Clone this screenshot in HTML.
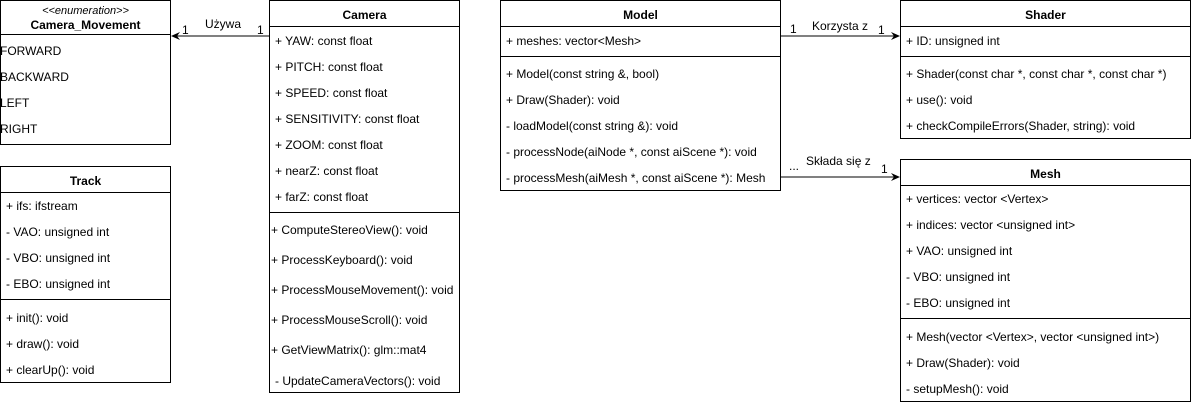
<!DOCTYPE html>
<html><head><meta charset="utf-8"><style>
body{margin:0;width:1191px;height:405px;background:#fff;position:relative;overflow:hidden;font-family:"Liberation Sans",sans-serif;font-size:12px;color:#000}
.b{position:absolute;border:1px solid #000;box-sizing:border-box}
.l{position:absolute;height:0;border-top:1px solid #000}
.t{position:absolute;white-space:nowrap;line-height:14px;transform:translateY(1px)}
.h{font-weight:bold;text-align:center}
</style></head><body>
<!-- Camera_Movement -->
<div class="b" style="left:0;top:0;width:171px;height:145px"></div>
<div class="l" style="left:0;top:34px;width:171px"></div>
<div class="t" style="left:0;top:3px;width:171px;text-align:center;font-style:italic;font-size:11px">&lt;&lt;enumeration&gt;&gt;</div>
<div class="t h" style="left:0;top:17px;width:171px">Camera_Movement</div>
<div class="t" style="left:0;top:43px">FORWARD</div>
<div class="t" style="left:0;top:69px">BACKWARD</div>
<div class="t" style="left:0;top:95px">LEFT</div>
<div class="t" style="left:0;top:121px">RIGHT</div>
<!-- Track -->
<div class="b" style="left:0;top:166px;width:171px;height:217px"></div>
<div class="l" style="left:0;top:192px;width:171px"></div>
<div class="l" style="left:0;top:299px;width:171px"></div>
<div class="t h" style="left:0;top:173px;width:171px">Track</div>
<div class="t" style="left:6px;top:198px">+ ifs: ifstream</div>
<div class="t" style="left:6px;top:224px">- VAO: unsigned int</div>
<div class="t" style="left:6px;top:250px">- VBO: unsigned int</div>
<div class="t" style="left:6px;top:276px">- EBO: unsigned int</div>
<div class="t" style="left:6px;top:310px">+ init(): void</div>
<div class="t" style="left:6px;top:336px">+ draw(): void</div>
<div class="t" style="left:6px;top:362px">+ clearUp(): void</div>
<!-- Camera -->
<div class="b" style="left:269px;top:0;width:191px;height:393px"></div>
<div class="l" style="left:269px;top:26px;width:191px"></div>
<div class="l" style="left:269px;top:212px;width:191px"></div>
<div class="t h" style="left:269px;top:7px;width:191px">Camera</div>
<div class="t" style="left:275px;top:33px">+ YAW: const float</div>
<div class="t" style="left:275px;top:59px">+ PITCH: const float</div>
<div class="t" style="left:275px;top:85px">+ SPEED: const float</div>
<div class="t" style="left:275px;top:111px">+ SENSITIVITY: const float</div>
<div class="t" style="left:275px;top:137px">+ ZOOM: const float</div>
<div class="t" style="left:275px;top:163px">+ nearZ: const float</div>
<div class="t" style="left:275px;top:189px">+ farZ: const float</div>
<div class="t" style="left:271px;top:222px">+ ComputeStereoView(): void</div>
<div class="t" style="left:271px;top:252px">+ ProcessKeyboard(): void</div>
<div class="t" style="left:271px;top:282px">+ ProcessMouseMovement(): void</div>
<div class="t" style="left:271px;top:312px">+ ProcessMouseScroll(): void</div>
<div class="t" style="left:271px;top:342px">+ GetViewMatrix(): glm::mat4</div>
<div class="t" style="left:275px;top:373px">- UpdateCameraVectors(): void</div>
<!-- Model -->
<div class="b" style="left:500px;top:0;width:281px;height:191px"></div>
<div class="l" style="left:500px;top:26px;width:281px"></div>
<div class="l" style="left:500px;top:56px;width:281px"></div>
<div class="t h" style="left:500px;top:7px;width:281px">Model</div>
<div class="t" style="left:506px;top:33px">+ meshes: vector&lt;Mesh&gt;</div>
<div class="t" style="left:506px;top:66px">+ Model(const string &amp;, bool)</div>
<div class="t" style="left:506px;top:92px">+ Draw(Shader): void</div>
<div class="t" style="left:506px;top:118px">- loadModel(const string &amp;): void</div>
<div class="t" style="left:506px;top:144px">- processNode(aiNode *, const aiScene *): void</div>
<div class="t" style="left:506px;top:170px">- processMesh(aiMesh *, const aiScene *): Mesh</div>
<!-- Shader -->
<div class="b" style="left:900px;top:0;width:291px;height:139px"></div>
<div class="l" style="left:900px;top:26px;width:291px"></div>
<div class="l" style="left:900px;top:56px;width:291px"></div>
<div class="t h" style="left:900px;top:7px;width:291px">Shader</div>
<div class="t" style="left:906px;top:33px">+ ID: unsigned int</div>
<div class="t" style="left:906px;top:66px">+ Shader(const char *, const char *, const char *)</div>
<div class="t" style="left:906px;top:92px">+ use(): void</div>
<div class="t" style="left:906px;top:118px">+ checkCompileErrors(Shader, string): void</div>
<!-- Mesh -->
<div class="b" style="left:900px;top:159px;width:291px;height:243px"></div>
<div class="l" style="left:900px;top:185px;width:291px"></div>
<div class="l" style="left:900px;top:318px;width:291px"></div>
<div class="t h" style="left:900px;top:166px;width:291px">Mesh</div>
<div class="t" style="left:906px;top:191px">+ vertices: vector &lt;Vertex&gt;</div>
<div class="t" style="left:906px;top:217px">+ indices: vector &lt;unsigned int&gt;</div>
<div class="t" style="left:906px;top:243px">+ VAO: unsigned int</div>
<div class="t" style="left:906px;top:269px">- VBO: unsigned int</div>
<div class="t" style="left:906px;top:295px">- EBO: unsigned int</div>
<div class="t" style="left:906px;top:329px">+ Mesh(vector &lt;Vertex&gt;, vector &lt;unsigned int&gt;)</div>
<div class="t" style="left:906px;top:355px">+ Draw(Shader): void</div>
<div class="t" style="left:906px;top:381px">- setupMesh(): void</div>
<!-- connectors -->
<svg width="1191" height="405" style="position:absolute;left:0;top:0">
<line x1="269" y1="36" x2="176" y2="36" stroke="#000"/>
<polygon points="171,36 180,32 177,36 180,40" fill="#000"/>
<line x1="781" y1="36" x2="894" y2="36" stroke="#000"/>
<polygon points="900,36 891,32 894,36 891,40" fill="#000"/>
<line x1="781" y1="177" x2="894" y2="177" stroke="#000"/>
<polygon points="900,177 891,173 894,177 891,181" fill="#000"/>
</svg>
<div class="t" style="left:182px;top:22px">1</div>
<div class="t" style="left:205px;top:16px">Używa</div>
<div class="t" style="left:257px;top:22px">1</div>
<div class="t" style="left:790px;top:21px">1</div>
<div class="t" style="left:812px;top:18px">Korzysta z</div>
<div class="t" style="left:878px;top:22px">1</div>
<div class="t" style="left:789px;top:158px">...</div>
<div class="t" style="left:806px;top:153px">Składa się z</div>
<div class="t" style="left:881px;top:161px">1</div>
</body></html>
